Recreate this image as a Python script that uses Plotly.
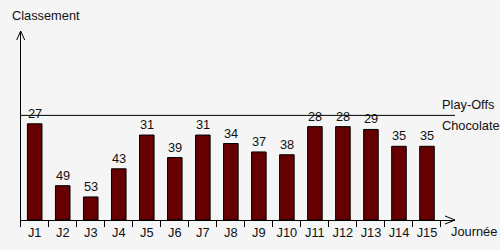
import plotly.graph_objects as go

journees = ["J1", "J2", "J3", "J4", "J5", "J6", "J7", "J8", "J9", "J10", "J11", "J12", "J13", "J14", "J15"]
classement = [27, 49, 53, 43, 31, 39, 31, 34, 37, 38, 28, 28, 29, 35, 35]
playoffs_rank = 24
rank_floor = 61.2
rank_top = -6

bar_color = "#660000"
txt_color = "#111111"
font_family = "Liberation Sans, Arial, sans-serif"
fs = 12.8

fig = go.Figure()
fig.add_trace(go.Bar(
    x=journees,
    y=[c - rank_floor for c in classement],
    base=rank_floor,
    width=0.52,
    marker=dict(color=bar_color, line=dict(color="black", width=1)),
    hoverinfo="skip",
))

annotations = []
for j, c in zip(journees, classement):
    annotations.append(dict(x=j, y=c, xref="x", yref="y", text=str(c), showarrow=False,
                            yanchor="bottom", xanchor="center", yshift=1,
                            font=dict(size=fs, color=txt_color)))

annotations += [
    dict(x=439.5 / 500, y=playoffs_rank, xref="paper", yref="y", text="Play-Offs", showarrow=False,
         xanchor="left", yanchor="bottom", yshift=1, font=dict(size=fs, color=txt_color)),
    dict(x=439.5 / 500, y=playoffs_rank, xref="paper", yref="y", text="Chocolate", showarrow=False,
         xanchor="left", yanchor="top", yshift=-1, font=dict(size=fs, color=txt_color)),
    dict(x=9.5 / 500, y=(250 - 16) / 250, xref="paper", yref="paper", text="Classement", showarrow=False,
         xanchor="left", yanchor="middle", font=dict(size=fs, color=txt_color)),
    dict(x=448.5 / 500, y=(250 - 231) / 250, xref="paper", yref="paper", text="Journée", showarrow=False,
         xanchor="left", yanchor="middle", font=dict(size=fs, color=txt_color)),
]

shapes = [
    dict(type="line", xref="x domain", yref="y", x0=0, x1=1, y0=playoffs_rank, y1=playoffs_rank,
         line=dict(color="black", width=1)),
    dict(type="path", xref="paper", yref="paper",
         path="M 0.89 0.136 L 0.91 0.12 L 0.89 0.104", line=dict(color="black", width=1)),
    dict(type="path", xref="paper", yref="paper",
         path="M 0.0334 0.84 L 0.0414 0.876 L 0.0494 0.84", line=dict(color="black", width=1)),
]

fig.update_layout(
    width=500, height=250,
    margin=dict(l=0, r=0, t=0, b=0),
    paper_bgcolor="#f5f5f5", plot_bgcolor="#f5f5f5",
    font=dict(family=font_family, size=fs, color=txt_color),
    showlegend=False,
    annotations=annotations,
    shapes=shapes,
    xaxis=dict(
        domain=[20.7 / 500, 455 / 500],
        range=[-0.5, 15.0],
        showline=True, linecolor="black", linewidth=1,
        ticks="outside", tickson="boundaries", ticklen=6, tickcolor="black", tickwidth=1,
        tickangle=0, ticklabelstandoff=1,
        showgrid=False, zeroline=False,
        tickfont=dict(size=fs, color=txt_color),
        fixedrange=True,
    ),
    yaxis=dict(
        domain=[30 / 250, (250 - 31) / 250],
        range=[rank_floor, rank_top],
        showline=True, linecolor="black", linewidth=1,
        showticklabels=False, ticks="", showgrid=False, zeroline=False,
        fixedrange=True,
    ),
)

fig.write_html("out.html")
